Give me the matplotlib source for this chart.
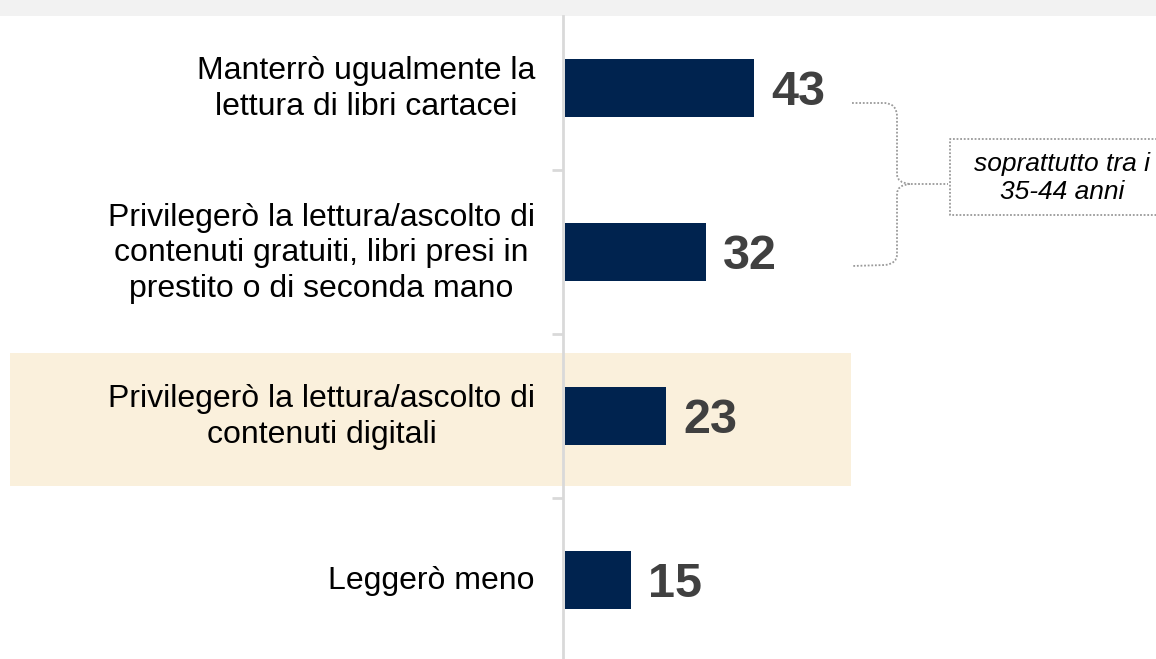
import matplotlib
matplotlib.use("Agg")
import matplotlib.pyplot as plt
from matplotlib.path import Path
from matplotlib.patches import PathPatch, Rectangle

plt.rcParams['font.family'] = ['Liberation Sans', 'DejaVu Sans']

categories = [
    "Manterrò ugualmente la\nlettura di libri cartacei",
    "Privilegerò la lettura/ascolto di\ncontenuti gratuiti, libri presi in\nprestito o di seconda mano",
    "Privilegerò la lettura/ascolto di\ncontenuti digitali",
    "Leggerò meno",
]
values = [43, 32, 23, 15]
note_text = "soprattutto tra i\n35-44 anni"

W, H = 1156, 659
fig = plt.figure(figsize=(W / 100, H / 100), dpi=100)

# overlay in pixel coordinates (background decorations)
bg = fig.add_axes([0, 0, 1, 1], zorder=0)
bg.set_xlim(0, W)
bg.set_ylim(H, 0)
bg.axis('off')
bg.add_patch(Rectangle((0, 0), W, 16, color='#F2F2F2', lw=0))
bg.add_patch(Rectangle((10, 353), 841, 133, color='#FAF0DC', lw=0))

# main axes
ax_left, ax_top, ax_bottom = 563, 16, 659
ax = fig.add_axes([ax_left / W, 1 - ax_bottom / H, (W - ax_left) / W, (ax_bottom - ax_top) / H], zorder=1)
ax.patch.set_alpha(0)
px_per_unit = 4.4
ax.set_xlim(0, (W - ax_left) / px_per_unit)
ax.set_ylim(3.48, -0.44)
ypos = list(range(len(values)))
ax.barh(ypos, values, height=0.355, color='#00234F', left=0.4)
for y, v in zip(ypos, values):
    ax.text(v + 0.4 + 17 / px_per_unit, y + 4 / 164, str(v), va='center', ha='left',
            fontsize=35, fontweight='bold', color='#404040')
    ax.text(-28 / px_per_unit, y + 1 / 164, categories[y], va='center', ha='right', multialignment='center',
            fontsize=23, color='#000000', linespacing=1.24, clip_on=False)
for s in ['top', 'right', 'bottom']:
    ax.spines[s].set_visible(False)
ax.spines['left'].set_color('#D9D9D9')
ax.spines['left'].set_linewidth(2)
ax.set_xticks([])
ax.set_yticks([0.5, 1.5, 2.5])
ax.set_yticklabels([])
ax.tick_params(axis='y', length=8, width=2, color='#D9D9D9')

# overlay on top for bracket and note
fg = fig.add_axes([0, 0, 1, 1], zorder=2)
fg.patch.set_alpha(0)
fg.set_xlim(0, W)
fg.set_ylim(H, 0)
fg.axis('off')
verts = [(852, 103), (885, 103), (897, 104), (897, 116),
         (897, 174), (897, 183), (910, 184), (948, 184)]
codes = [Path.MOVETO, Path.LINETO, Path.CURVE3, Path.CURVE3,
         Path.LINETO, Path.CURVE3, Path.CURVE3, Path.LINETO]
fg.add_patch(PathPatch(Path(verts, codes), fill=False, ls=(0, (1, 1)), lw=1.3, ec='#9A9A9A'))
verts2 = [(910, 184), (897, 185), (897, 194), (897, 254), (897, 264), (885, 265), (852, 266)]
codes2 = [Path.MOVETO, Path.CURVE3, Path.CURVE3, Path.LINETO, Path.CURVE3, Path.CURVE3, Path.LINETO]
fg.add_patch(PathPatch(Path(verts2, codes2), fill=False, ls=(0, (1, 1)), lw=1.3, ec='#9A9A9A'))
fg.plot([1160, 950, 950, 1160], [139, 139, 215, 215], ls=(0, (1, 1)), lw=1.3, color='#9A9A9A')
fg.text(1062, 178, note_text, ha='center', va='center', fontsize=19, style='italic',
        color='#000000', linespacing=1.2)

fig.savefig('out.png', dpi=100)
